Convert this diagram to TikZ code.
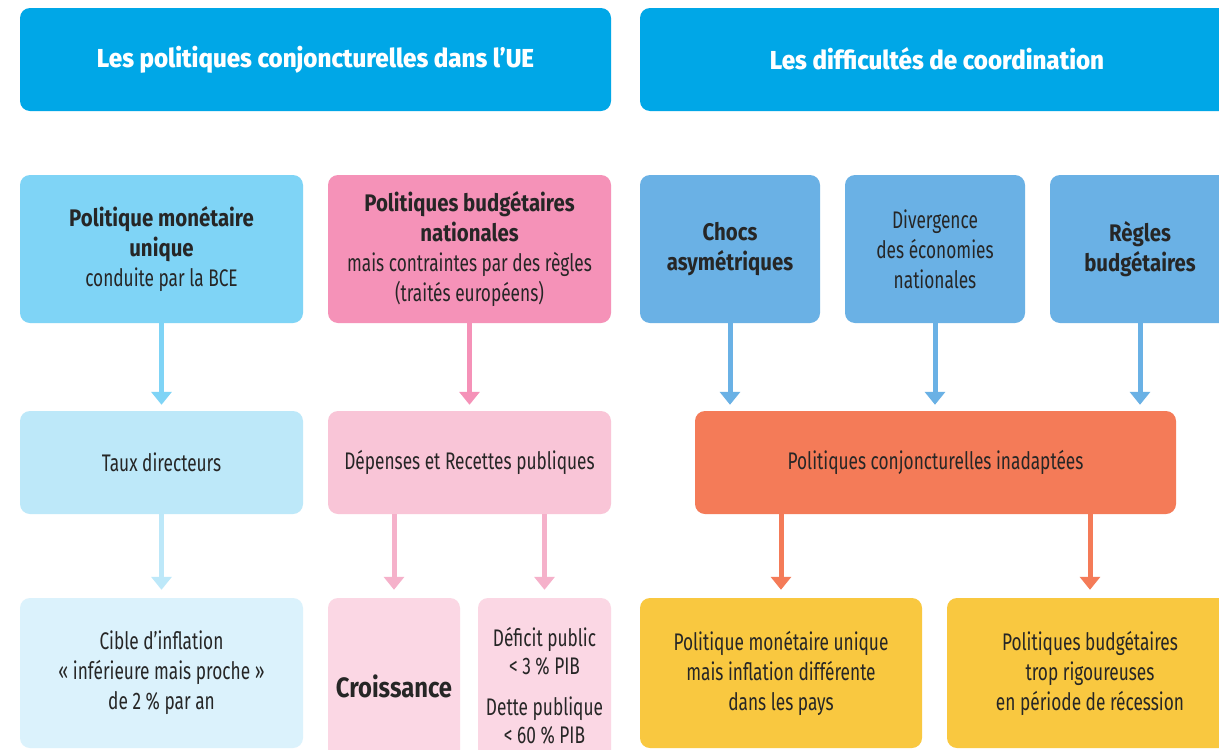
\documentclass[tikz,border=0pt]{standalone}
\usepackage{fontspec}
\setmainfont{Fira Sans}[FakeStretch=0.72, BoldFeatures={FakeStretch=0.85}]
\newfontfamily\headfont{Fira Sans ExtraBold}[FakeStretch=0.93]
\usetikzlibrary{arrows.meta}
\definecolor{hdr}{HTML}{00A7E7}
\definecolor{cA}{HTML}{7FD4F6}
\definecolor{cB}{HTML}{F592B8}
\definecolor{cC}{HTML}{6AB1E5}
\definecolor{cF}{HTML}{BDE8F9}
\definecolor{cG}{HTML}{F9C5D7}
\definecolor{cH}{HTML}{F47B58}
\definecolor{cI}{HTML}{DBF2FC}
\definecolor{cJ}{HTML}{FBD7E4}
\definecolor{cL}{HTML}{F9C840}
\definecolor{aG}{HTML}{F5B1CA}
\definecolor{txt}{HTML}{262626}
\tikzset{
  box/.style={rounded corners=10pt, inner sep=0pt, align=center, text=txt,
    font=\fontsize{24}{30}\selectfont},
  hbox/.style={rounded corners=10pt, fill=hdr, inner sep=0pt, align=center, text=white,
    font=\headfont\fontsize{26}{30}\selectfont, minimum height=103pt},
  arr/.style={line width=5pt, -{Triangle[width=20pt,length=13pt]}},
}
\begin{document}
\begin{tikzpicture}[x=1pt,y=-1pt]
\clip (0,0) rectangle (1219,750);
\fill[white] (0,0) rectangle (1219,750);
% headers
\node[hbox, minimum width=591pt] (h1) at (315.5,59.5) {\raisebox{2pt}{Les politiques conjoncturelles dans l’UE}};
\node[hbox, minimum width=594pt] (h2) at (937,59.5) {\raisebox{2pt}{Les difficultés de coordination}};
% row 1
\node[box, fill=cA, minimum width=283pt, minimum height=148pt] (A) at (161.5,249)
  {\textbf{Politique monétaire}\\\textbf{unique}\\conduite par la BCE};
\node[box, fill=cB, minimum width=283pt, minimum height=148pt] (B) at (469.5,249)
  {\textbf{Politiques budgétaires}\\\textbf{nationales}\\mais contraintes par des règles\\(traités européens)};
\node[box, fill=cC, minimum width=180pt, minimum height=148pt] (C) at (730,249)
  {\textbf{Chocs}\\\textbf{asymétriques}};
\node[box, fill=cC, minimum width=180pt, minimum height=148pt] (D) at (935,249)
  {Divergence\\des économies\\nationales};
\node[box, fill=cC, minimum width=180pt, minimum height=148pt] (E) at (1140,249)
  {\textbf{Règles}\\\textbf{budgétaires}};
% row 2
\node[box, fill=cF, minimum width=283pt, minimum height=103pt] (F) at (161.5,462.5) {Taux directeurs};
\node[box, fill=cG, minimum width=283pt, minimum height=103pt] (G) at (469.5,462.5) {Dépenses et Recettes publiques};
\node[box, fill=cH, minimum width=481pt, minimum height=103pt] (H) at (935.5,462.5) {Politiques conjoncturelles inadaptées};
% row 3
\node[box, fill=cI, minimum width=283pt, minimum height=150pt] (I) at (161.5,673)
  {Cible d’inflation\\«~inférieure mais proche~»\\de 2~\% par an};
\node[box, fill=cJ, minimum width=132pt, minimum height=176pt] (J) at (394,686)
  {\fontsize{28}{30}\selectfont\textbf{Croissance}};
\node[box, fill=cJ, minimum width=133pt, minimum height=176pt, font=\fontsize{24}{28}\selectfont] (K) at (544.5,686)
  {Déficit public\\<~3~\% PIB\\[13pt]Dette publique\\<~60~\% PIB};
\node[box, fill=cL, minimum width=282pt, minimum height=150pt] (L) at (781,673)
  {Politique monétaire unique\\mais inflation différente\\dans les pays};
\node[box, fill=cL, minimum width=286pt, minimum height=150pt] (M) at (1090,673)
  {Politiques budgétaires\\trop rigoureuses\\en période de récession};
% arrows
\draw[arr, cA, shorten >=6pt] (A.south) -- (F.north);
\draw[arr, cB, shorten >=6pt] (B.south) -- (G.north);
\draw[arr, cC, shorten >=6pt] (C.south) -- (C.south |- H.north);
\draw[arr, cC, shorten >=6pt] (D.south) -- (D.south |- H.north);
\draw[arr, cC, shorten >=6pt] (E.south) -- (E.south |- H.north);
\draw[arr, cF, shorten >=8pt] (F.south) -- (I.north);
\draw[arr, aG, shorten >=8pt] (G.south -| J.north) -- (J.north);
\draw[arr, aG, shorten >=8pt] (G.south -| K.north) -- (K.north);
\draw[arr, cH, shorten >=8pt] (H.south -| L.north) -- (L.north);
\draw[arr, cH, shorten >=8pt] (H.south -| M.north) -- (M.north);
\end{tikzpicture}
\end{document}
